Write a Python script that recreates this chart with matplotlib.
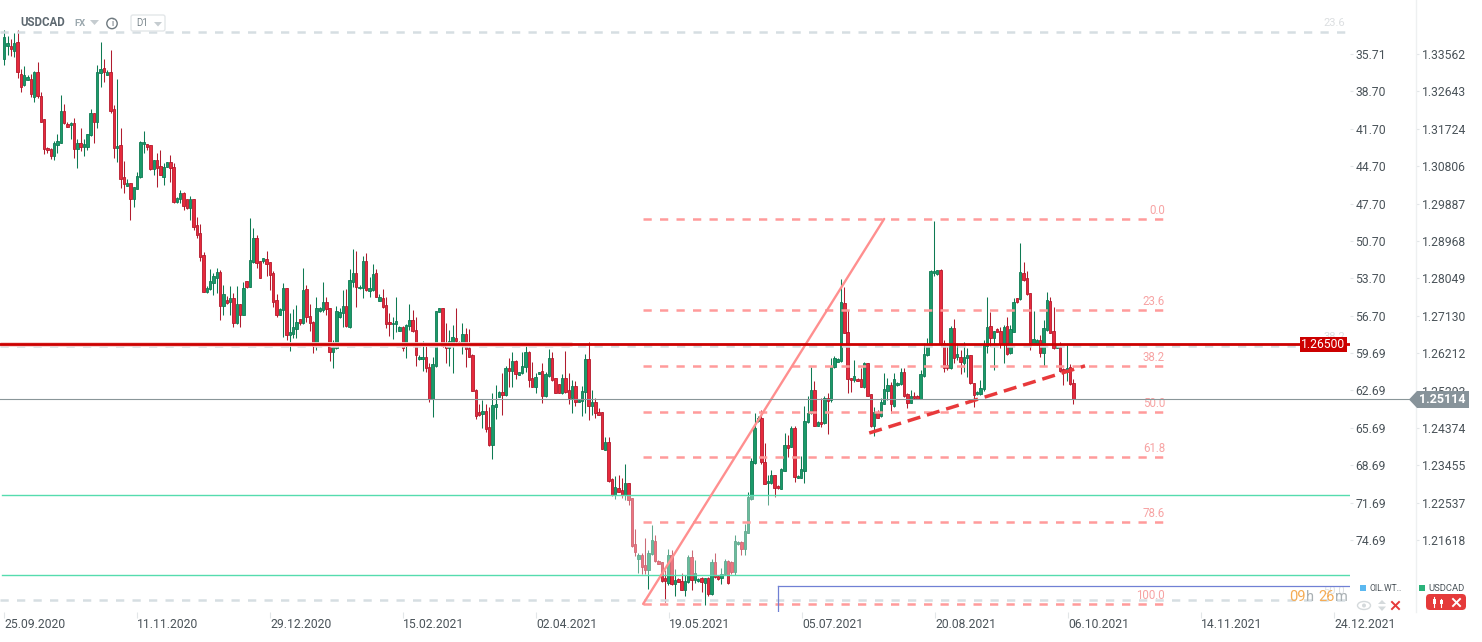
import numpy as np
import matplotlib
matplotlib.use("Agg")
import matplotlib.pyplot as plt
from matplotlib.patches import Rectangle, Polygon, FancyBboxPatch, Circle, Ellipse

plt.rcParams['font.family'] = ['Roboto', 'DejaVu Sans']

# Daily USDCAD candles, prices in 1/10000 units
highs = [13415,13401,13393,13408,13415,13319,13327,13305,13307,13315,13337,13263,13197,13128,13125,13143,13160,13256,13233,13189,
13189,13199,13147,13174,13147,13160,13221,13211,13329,13386,13344,13317,13366,13231,13295,13174,13093,13049,13039,13030,
13066,13143,13167,13135,13133,13096,13113,13120,13088,13091,13108,13088,13005,13022,13017,12998,13007,13000,
12956,12939,12870,12786,12828,12818,12830,12826,12789,12762,12786,12769,12786,12742,12796,12799,12953,12929,12912,12848,12855,12872,
12845,12823,12767,12732,12794,12781,12720,12730,12740,12705,12830,12789,12742,12700,12759,12735,12796,12759,12732,12654,
12737,12732,12776,12779,12828,12877,12872,12789,12860,12867,12808,12840,12828,12767,12779,12759,12720,12710,12759,12688,
12688,12693,12742,12727,12710,12617,12651,12641,12597,12612,12725,12732,12732,12695,12678,12690,12732,12651,12695,12683,
12681,12619,12533,12496,12506,12496,12489,12523,12543,12528,12573,12590,12609,12624,12604,12575,12624,12644,12627,12600,
12573,12575,12597,12575,12632,12624,12560,12546,12570,12627,12573,12555,12553,12506,12541,12619,12649,12531,12511,12487,
12477,12415,12415,12315,12319,12322,12315,12349,12302,12265,12189,12130,12130,12167,12138,12199,12174,12113,12108,12088,
12140,12138,12091,12069,12081,12076,12125,12138,12113,12069,12071,12069,12071,12116,12130,12076,12093,12116,12113,12111,
12174,12160,12160,12202,12280,12364,12474,12467,12482,12401,12322,12334,12322,12297,12339,12425,12420,12442,12442,12322,
12369,12491,12516,12587,12553,12455,12511,12516,12523,12609,12614,12609,12804,12784,12727,12560,12604,12560,12585,12600,
12597,12521,12489,12482,12511,12573,12560,12550,12573,12550,12585,12585,12523,12531,12526,12518,12580,12646,12659,12826,
12946,12826,12828,12654,12646,12688,12705,12646,12629,12649,12634,12617,12548,12528,12555,12654,12759,12722,12676,12683,
12686,12690,12710,12690,12757,12757,12892,12845,12823,12769,12725,12656,12666,12703,12772,12759,12735,12644,12649,12585,
12641,12595,12558]
lows = [13329,13354,13351,13349,13297,13263,13278,13292,13251,13238,13248,13189,13111,13113,13098,13096,13113,13138,13184,13177,
13147,13101,13076,13118,13106,13120,13155,13138,13174,13275,13288,13305,13211,13101,13091,13027,13015,13032,12948,12980,
13025,13052,13113,13120,13071,13059,13030,13059,13034,13079,13042,12990,12990,12990,12973,12975,12948,12924,
12904,12848,12772,12769,12776,12764,12769,12703,12715,12742,12715,12686,12693,12686,12715,12781,12784,12843,12830,12806,12843,12811,
12776,12735,12710,12715,12661,12654,12627,12659,12659,12690,12693,12698,12676,12622,12629,12722,12722,12715,12602,12585,
12632,12708,12686,12686,12683,12784,12735,12779,12757,12774,12759,12774,12759,12749,12732,12683,12663,12656,12673,12676,
12627,12609,12678,12673,12590,12604,12577,12575,12501,12464,12587,12722,12636,12597,12590,12573,12644,12641,12619,12587,
12612,12528,12460,12467,12437,12428,12393,12361,12460,12514,12469,12516,12538,12538,12558,12568,12570,12575,12538,12538,
12523,12570,12499,12514,12563,12553,12523,12523,12521,12523,12496,12474,12491,12501,12467,12474,12457,12469,12462,12469,
12386,12383,12305,12270,12263,12280,12265,12260,12248,12145,12123,12081,12079,12079,12042,12125,12108,12103,12059,12010,
12052,12052,12025,12059,12039,12025,12057,12039,12057,12059,12034,12002,12025,12027,12069,12064,12054,12076,12054,12079,
12076,12150,12125,12125,12179,12260,12349,12452,12349,12300,12248,12300,12268,12288,12288,12332,12366,12391,12305,12315,
12315,12302,12450,12472,12442,12442,12440,12447,12423,12501,12585,12600,12600,12671,12523,12526,12550,12553,12538,12536,
12516,12440,12418,12462,12464,12496,12506,12474,12489,12541,12543,12514,12487,12499,12509,12509,12509,12563,12614,12639,
12811,12813,12639,12575,12580,12582,12597,12604,12570,12575,12563,12546,12489,12518,12518,12528,12622,12639,12580,12673,
12634,12597,12617,12619,12673,12745,12752,12799,12764,12629,12644,12641,12612,12590,12676,12671,12632,12634,12575,12543,
12553,12543,12496]
opens = [13344,13376,13376,13364,13386,13307,13280,13292,13295,13251,13312,13253,13197,13125,13123,13106,13133,13138,13216,13184,
13182,13187,13123,13138,13128,13128,13157,13211,13189,13310,13322,13305,13312,13221,13125,13133,13054,13032,13039,13000,
13025,13054,13135,13135,13133,13074,13096,13081,13054,13079,13091,13079,12993,13000,13015,13000,12978,13000,
12936,12917,12862,12772,12779,12794,12806,12821,12737,12752,12747,12757,12695,12742,12715,12799,12784,12845,12904,12848,12848,12853,
12845,12818,12752,12715,12727,12781,12666,12668,12681,12705,12695,12779,12713,12698,12639,12725,12727,12747,12732,12624,
12634,12710,12720,12737,12686,12796,12818,12781,12781,12848,12774,12776,12818,12749,12757,12740,12698,12693,12693,12676,
12686,12639,12688,12703,12678,12607,12607,12612,12587,12509,12590,12722,12732,12641,12634,12646,12659,12649,12644,12668,
12634,12617,12531,12477,12472,12479,12440,12396,12489,12514,12526,12518,12585,12577,12602,12568,12573,12587,12624,12560,
12538,12570,12577,12516,12565,12609,12560,12546,12523,12560,12531,12511,12541,12501,12504,12526,12607,12491,12501,12477,
12477,12383,12403,12312,12273,12290,12285,12273,12302,12265,12152,12116,12125,12101,12088,12128,12160,12111,12108,12069,
12057,12125,12054,12066,12062,12039,12059,12120,12064,12062,12069,12057,12069,12030,12108,12074,12069,12079,12111,12108,
12084,12152,12157,12140,12179,12263,12351,12455,12462,12354,12302,12302,12322,12295,12288,12332,12396,12391,12437,12315,
12315,12332,12452,12474,12531,12442,12452,12450,12511,12506,12587,12600,12602,12745,12673,12560,12555,12558,12558,12538,
12597,12521,12442,12477,12467,12496,12528,12543,12491,12543,12545,12575,12521,12499,12516,12516,12509,12565,12617,12641,
12818,12816,12826,12646,12592,12585,12683,12612,12612,12597,12609,12617,12548,12521,12521,12533,12639,12688,12659,12681,
12676,12646,12688,12622,12673,12757,12754,12818,12806,12769,12646,12644,12654,12622,12678,12749,12676,12634,12636,12582,
12575,12587,12548]
closes = [13398,13383,13369,13383,13312,13275,13305,13300,13258,13312,13253,13189,13123,13120,13106,13138,13143,13216,13187,13177,
13187,13123,13138,13128,13135,13160,13211,13189,13312,13319,13312,13312,13216,13125,13130,13049,13037,13039,13000,13030,
13057,13140,13140,13128,13074,13096,13076,13059,13079,13091,13076,12993,13003,13015,12983,12978,13000,12931,
12912,12858,12772,12781,12799,12811,12821,12737,12767,12745,12757,12695,12742,12715,12781,12784,12850,12904,12843,12806,12855,12840,
12813,12747,12715,12730,12781,12666,12673,12686,12698,12695,12776,12710,12695,12639,12732,12732,12747,12730,12624,12636,
12725,12722,12737,12688,12801,12818,12784,12784,12848,12776,12781,12816,12759,12759,12735,12693,12693,12695,12700,12686,
12634,12690,12703,12676,12617,12612,12612,12585,12509,12595,12725,12732,12639,12634,12651,12661,12651,12644,12668,12632,
12612,12528,12467,12469,12479,12435,12396,12494,12496,12526,12518,12585,12577,12602,12570,12575,12590,12624,12555,12538,
12563,12575,12516,12570,12609,12555,12523,12523,12560,12526,12511,12541,12501,12506,12528,12607,12491,12501,12474,12469,
12386,12403,12307,12273,12292,12280,12273,12302,12260,12147,12133,12125,12096,12088,12130,12162,12111,12103,12062,12062,
12125,12054,12064,12059,12039,12062,12120,12064,12081,12066,12059,12069,12030,12108,12071,12066,12079,12111,12057,12084,
12160,12157,12140,12184,12268,12356,12437,12462,12354,12300,12307,12322,12290,12290,12337,12396,12388,12437,12317,12319,
12337,12455,12474,12531,12442,12452,12447,12511,12504,12590,12609,12607,12747,12671,12558,12555,12565,12553,12538,12597,
12516,12442,12477,12462,12501,12533,12543,12496,12558,12548,12575,12516,12499,12516,12511,12509,12570,12619,12639,12823,
12823,12826,12644,12585,12585,12683,12609,12619,12600,12612,12617,12548,12518,12526,12536,12641,12686,12659,12676,12673,
12644,12686,12619,12681,12747,12747,12821,12801,12767,12646,12656,12654,12622,12683,12752,12671,12634,12641,12577,12575,
12585,12545,12509]

price_ticks = ['1.33562','1.32643','1.31724','1.30806','1.29887','1.28968','1.28049','1.27130',
               '1.26212','1.25293','1.24374','1.23455','1.22537','1.21618']
oil_ticks = ['35.71','38.70','41.70','44.70','47.70','50.70','53.70','56.70',
             '59.69','62.69','65.69','68.69','71.69','74.69']
date_labels = ['25.09.2020','11.11.2020','29.12.2020','15.02.2021','02.04.2021','19.05.2021',
               '05.07.2021','20.08.2021','06.10.2021','14.11.2021','24.12.2021']

fib_levels = [1.2951, 1.2727, 1.2590, 1.2477, 1.2366, 1.2206, 1.2005]
fib_names = ['0.0', '23.6', '38.2', '50.0', '61.8', '78.6', '100.0']
old_fib_levels = [1.3410, 1.2639, 1.2015]
old_fib_names = ['23.6', '38.2', '50.0']
resistance = 1.2644
last_price = 1.25086
upper_teal_level = 1.2273
teal_level = 1.2077
blue_level = 1.2049

o, h, l, c = [np.array(a) / 1e4 for a in (opens, highs, lows, closes)]
idx = np.arange(len(o))

W, H = 1482, 642
fig = plt.figure(figsize=(W / 100, H / 100), dpi=100, facecolor='white')
bottom = (H - 612) / H
height = 612 / H
ylim = (1.19852, 1.34889)
xlim = (-1.295, 405.3)

def make_axes(right_px):
    a = fig.add_axes([0, bottom, right_px / W, height])
    a.patch.set_alpha(0)
    for s in a.spines.values():
        s.set_visible(False)
    return a

ax = make_axes(1350)
ax.set_xlim(*xlim)
ax.set_ylim(*ylim)
ax.set_yticks([])

# oil axis
oil = make_axes(1350)
oil.set_xticks([])
oil.set_ylim(80.46, 31.38)
oil.yaxis.tick_right()
oil.set_yticks([float(t) for t in oil_ticks], oil_ticks)
oil.tick_params(axis='y', length=2.5, width=0.8, color='#e2e6e8', labelcolor='#4a5359', labelsize=8.7, pad=1.5)

# price axis
pr = make_axes(1416)
pr.set_xticks([])
pr.set_ylim(*ylim)
pr.yaxis.tick_right()
pr.set_yticks([float(t) for t in price_ticks], price_ticks)
pr.tick_params(axis='y', length=2.5, width=0.8, color='#e2e6e8', labelcolor='#4a5359', labelsize=8.7, pad=1.5)
pr.spines['right'].set_visible(True)
pr.spines['right'].set_color('#eef0f1')
pr.spines['right'].set_linewidth(1)

# date axis
date_pos = (4 + 133 * np.arange(len(date_labels)) - 4.3) / 3.32
ax.set_xticks(date_pos, date_labels, ha='left')
ax.tick_params(axis='x', length=4, width=0.8, color='#e2e6e8', labelcolor='#4a5359', labelsize=8.7, pad=0.5)

# candles
up = c >= o
RED, GREEN = '#e62a3c', '#1a9a69'
RED_E, GREEN_E = '#b5182b', '#0e7a53'
ax.vlines(idx[up], l[up], h[up], color=GREEN_E, lw=0.75, zorder=2)
ax.vlines(idx[~up], l[~up], h[~up], color='#b01c2e', lw=0.75, zorder=2)
body_lo = np.minimum(o, c)
body_h = np.abs(c - o)
ax.bar(idx[up], body_h[up], bottom=body_lo[up], width=0.72, color=GREEN, edgecolor=GREEN_E, lw=0.6, zorder=3)
ax.bar(idx[~up], body_h[~up], bottom=body_lo[~up], width=0.72, color=RED, edgecolor=RED_E, lw=0.6, zorder=3)

# translucent band between the two teal lines
ax.axhspan(teal_level, upper_teal_level, color='white', alpha=0.35, lw=0, zorder=4)

# horizontal levels
ax.plot([-0.7, xlim[1]], [upper_teal_level, upper_teal_level], color='#55dcae', lw=1.0, zorder=5)
ax.plot([-0.7, xlim[1]], [teal_level, teal_level], color='#55dcae', lw=1.0, zorder=5)

grey_dash = dict(color='#d6dee2', lw=1.8, dashes=(3.3, 3.3), zorder=4.5)
for lev, name in zip(old_fib_levels, old_fib_names):
    ax.axhline(lev, **grey_dash)
    ax.annotate(name, (1, lev), xycoords=('axes fraction', 'data'), xytext=(-5, 9), textcoords='offset pixels',
                ha='right', va='center', fontsize=8, color='#dcdfe1', annotation_clip=False)

fib_x = (192.4, 349.6)
for lev, name in zip(fib_levels, fib_names):
    ax.plot(fib_x, [lev, lev], color='#ff9b9b', lw=1.8, dashes=(3.3, 3.3), zorder=6)
    ax.text(fib_x[1], lev + 0.0021, name, ha='right', va='center', fontsize=8.3, color='#f7a3a3', zorder=6)

# fib leg
ax.plot([192.4, 265.0], [fib_levels[-1], fib_levels[0]], color='#ff8f8f', lw=1.7, zorder=6, solid_capstyle='round')
# trend support
ax.plot([260.5, 325.5], [1.2425, 1.2590], color='#e8393b', lw=2.5, dashes=(3.8, 2.0), zorder=7)
# blue box edge
ax.plot([233.0, xlim[1]], [blue_level, blue_level], color='#7080d4', lw=0.9, zorder=6)
ax.plot([233.0, 233.0], [blue_level, 1.1985], color='#7080d4', lw=0.9, zorder=6)

# resistance and last price
ax.plot([xlim[0], 171], [resistance, resistance], color='#f9cccc', lw=3.4, zorder=7, solid_capstyle='butt')
ax.axhline(resistance, color='#cc0000', lw=2.0, zorder=8)
pr.plot([0, 1], [last_price, last_price], transform=pr.get_yaxis_transform(), color='#8a9699', lw=0.8, zorder=8)

# interface elements in pixel coordinates
ui = fig.add_axes([0, 0, 1, 1])
ui.set_xlim(0, W)
ui.set_ylim(H, 0)
ui.axis('off')
ui.patch.set_alpha(0)

ui.add_patch(Rectangle((1300, 337), 47, 15, fc='#cc0000', ec='none', zorder=10))
ui.text(1323.5, 344.5, '1.26500', color='white', fontsize=8.7, ha='center', va='center', zorder=11)
ui.add_patch(Polygon([(1409, 399.5), (1417, 391), (1469, 391), (1469, 408), (1417, 408)], fc='#87939a', ec='none', zorder=10))
ui.text(1442, 399.5, '1.25114', color='white', fontsize=9, fontweight='bold', ha='center', va='center', zorder=11)

ui.text(20, 23, 'USDCAD', color='#5d6870', fontsize=8.3, fontweight='bold', va='center', zorder=11)
ui.text(74, 24, 'FX', color='#9aa7ad', fontsize=6.8, fontweight='bold', va='center', zorder=11)
ui.add_patch(Polygon([(90, 20), (99, 20), (94.5, 25)], fc='#c5ccd0', ec='none', zorder=11))
ui.add_patch(Circle((112, 23.5), 5.2, fc='white', ec='#6f7a80', lw=1, zorder=11))
ui.text(112, 23.5, 'i', color='#5d6870', fontsize=6.5, ha='center', va='center', zorder=12)
ui.add_patch(FancyBboxPatch((131, 15), 34, 16, boxstyle='round,pad=0,rounding_size=2', fc='white', ec='#e3e7e9', lw=1, zorder=10))
ui.text(136, 23.5, 'D1', color='#7a868c', fontsize=7, va='center', zorder=11)
ui.add_patch(Polygon([(154, 22), (162, 22), (158, 26.5)], fc='#c5ccd0', ec='none', zorder=11))

# countdown
for x0, s, col in [(1289, '09', '#f5ac55'), (1306, 'h', '#a9b0b3'), (1318, '26', '#f5ac55'), (1335, 'm', '#a9b0b3')]:
    ui.text(x0, 597, s, color=col, fontsize=10.5, va='center', zorder=11)

# legend
ui.add_patch(Rectangle((1360, 585), 6, 6, fc='#5bb8f0', ec='none', zorder=11))
ui.text(1369, 588.5, 'OIL.WT..', color='#4a5359', fontsize=6.2, va='center', zorder=11)
ui.add_patch(Rectangle((1419, 585), 6, 6, fc='#2bb27a', ec='none', zorder=11))
ui.text(1428, 588.5, 'USDCAD', color='#4a5359', fontsize=6.8, va='center', zorder=11)
ui.add_patch(FancyBboxPatch((1426, 594), 40, 16, boxstyle='round,pad=0,rounding_size=4', fc='#e53a3a', ec='none', zorder=11))
ui.plot([1434, 1434], [597, 607], color='white', lw=0.8, zorder=12)
ui.plot([1441, 1441], [599, 607], color='white', lw=0.8, zorder=12)
ui.add_patch(Rectangle((1432.5, 599), 3, 5, fc='white', ec='none', zorder=12))
ui.add_patch(Rectangle((1439.5, 600), 3, 4, fc='white', ec='none', zorder=12))
ui.plot([1453, 1460], [599, 606], color='white', lw=1.4, zorder=12)
ui.plot([1453, 1460], [606, 599], color='white', lw=1.4, zorder=12)
ui.plot([1392, 1399], [602, 609], color='#e53a3a', lw=1.4, zorder=12)
ui.plot([1392, 1399], [609, 602], color='#e53a3a', lw=1.4, zorder=12)
ui.add_patch(Polygon([(1378, 604), (1386, 604), (1382, 600)], fc='#d5dadc', ec='none', zorder=11))
ui.add_patch(Polygon([(1378, 606.5), (1386, 606.5), (1382, 611)], fc='#d5dadc', ec='none', zorder=11))
ui.add_patch(Ellipse((1364, 605.5), 13, 8, fc='white', ec='#d5dadc', lw=1, zorder=11))
ui.add_patch(Circle((1364, 605.5), 2, fc='#d5dadc', ec='none', zorder=12))

fig.savefig('out.png', dpi=100)
